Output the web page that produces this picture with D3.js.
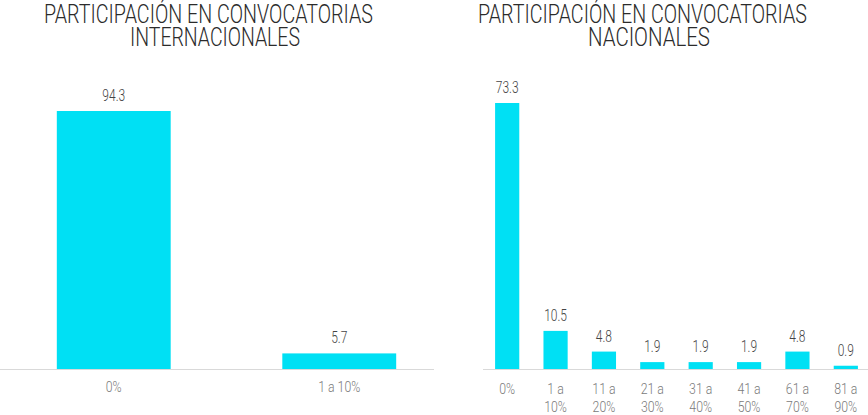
<!DOCTYPE html>
<html>
<head>
<meta charset="utf-8">
<script src="https://cdn.jsdelivr.net/npm/d3@7"></script>
<style>
  body { margin: 0; background: #fff; }
  text { font-family: Roboto, "Liberation Sans", sans-serif; }
</style>
</head>
<body>
<div id="chart"></div>
<script>
var svgWidth = 868;
var svgHeight = 415;

// data
var intCategories = ["0%", "1 a 10%"];
var intValues = [94.3, 5.7];

var natCategories = ["0%", "1 a|10%", "11 a|20%", "21 a|30%", "31 a|40%", "41 a|50%", "61 a|70%", "81 a|90%"];
var natValues = [73.3, 10.5, 4.8, 1.9, 1.9, 1.9, 4.8, 0.9];

var barColor = "#00e0f4";
var baseline = 369;

var svg = d3.select("#chart")
  .append("svg")
  .attr("width", svgWidth)
  .attr("height", svgHeight);

// text placed in a squeezed group so it looks like a condensed face
function narrowText(parent, x, y, sx) {
  return parent.append("g")
    .attr("transform", `translate(${x},${y}) scale(${sx},1)`)
    .append("text")
    .attr("text-anchor", "middle");
}

function drawPanel(opts) {
  var g = svg.append("g");

  var x = d3.scaleBand()
    .domain(opts.categories)
    .range(opts.xRange)
    .paddingInner(opts.padding)
    .paddingOuter(opts.padding / 2);

  var y = d3.scaleLinear()
    .domain([0, opts.maxValue])
    .range([baseline, opts.topY]);

  // title
  opts.title.forEach(function(line, i) {
    g.append("text")
      .attr("x", opts.titleX[i])
      .attr("y", 23 + i * 23)
      .attr("text-anchor", "middle")
      .attr("fill", "#2b2b2b")
      .attr("textLength", opts.titleW[i])
      .attr("lengthAdjust", "spacingAndGlyphs")
      .style("font-size", "25px")
      .style("font-weight", 300)
      .text(line);
  });

  // bars
  g.selectAll("rect")
    .data(opts.values)
    .enter()
    .append("rect")
    .attr("x", (d, i) => x(opts.categories[i]))
    .attr("y", d => y(d))
    .attr("width", x.bandwidth())
    .attr("height", d => baseline - y(d))
    .attr("fill", barColor);

  // value labels
  opts.values.forEach(function(d, i) {
    narrowText(g, x(opts.categories[i]) + x.bandwidth() / 2, y(d) - 10, 0.75)
      .attr("fill", "#444")
      .style("font-size", "16px")
      .style("font-weight", 300)
      .text(d.toFixed(1));
  });

  // axis line
  g.append("line")
    .attr("x1", opts.axisX[0])
    .attr("x2", opts.axisX[1])
    .attr("y1", baseline + 0.5)
    .attr("y2", baseline + 0.5)
    .attr("stroke", "#d9d9d9")
    .attr("stroke-width", 1);

  // category labels
  opts.categories.forEach(function(c) {
    var t = narrowText(g, x(c) + x.bandwidth() / 2, opts.labelY, 0.82)
      .attr("fill", "#7a7a7a")
      .style("font-size", "15px")
      .style("font-weight", 300);
    c.split("|").forEach(function(line, i) {
      t.append("tspan")
        .attr("x", 0)
        .attr("dy", i === 0 ? 0 : 18)
        .text(line);
    });
  });
}

drawPanel({
  categories: intCategories,
  values: intValues,
  xRange: [1, 452],
  padding: 0.495,
  maxValue: 94.3,
  topY: 111,
  axisX: [0, 434],
  title: ["PARTICIPACIÓN EN CONVOCATORIAS", "INTERNACIONALES"],
  titleX: [208.5, 215],
  titleW: [329, 170],
  labelY: 392
});

drawPanel({
  categories: natCategories,
  values: natValues,
  xRange: [483, 870],
  padding: 0.5,
  maxValue: 73.3,
  topY: 103,
  axisX: [483, 868],
  title: ["PARTICIPACIÓN EN CONVOCATORIAS", "NACIONALES"],
  titleX: [642.5, 649],
  titleW: [329, 122],
  labelY: 394
});
</script>
</body>
</html>
